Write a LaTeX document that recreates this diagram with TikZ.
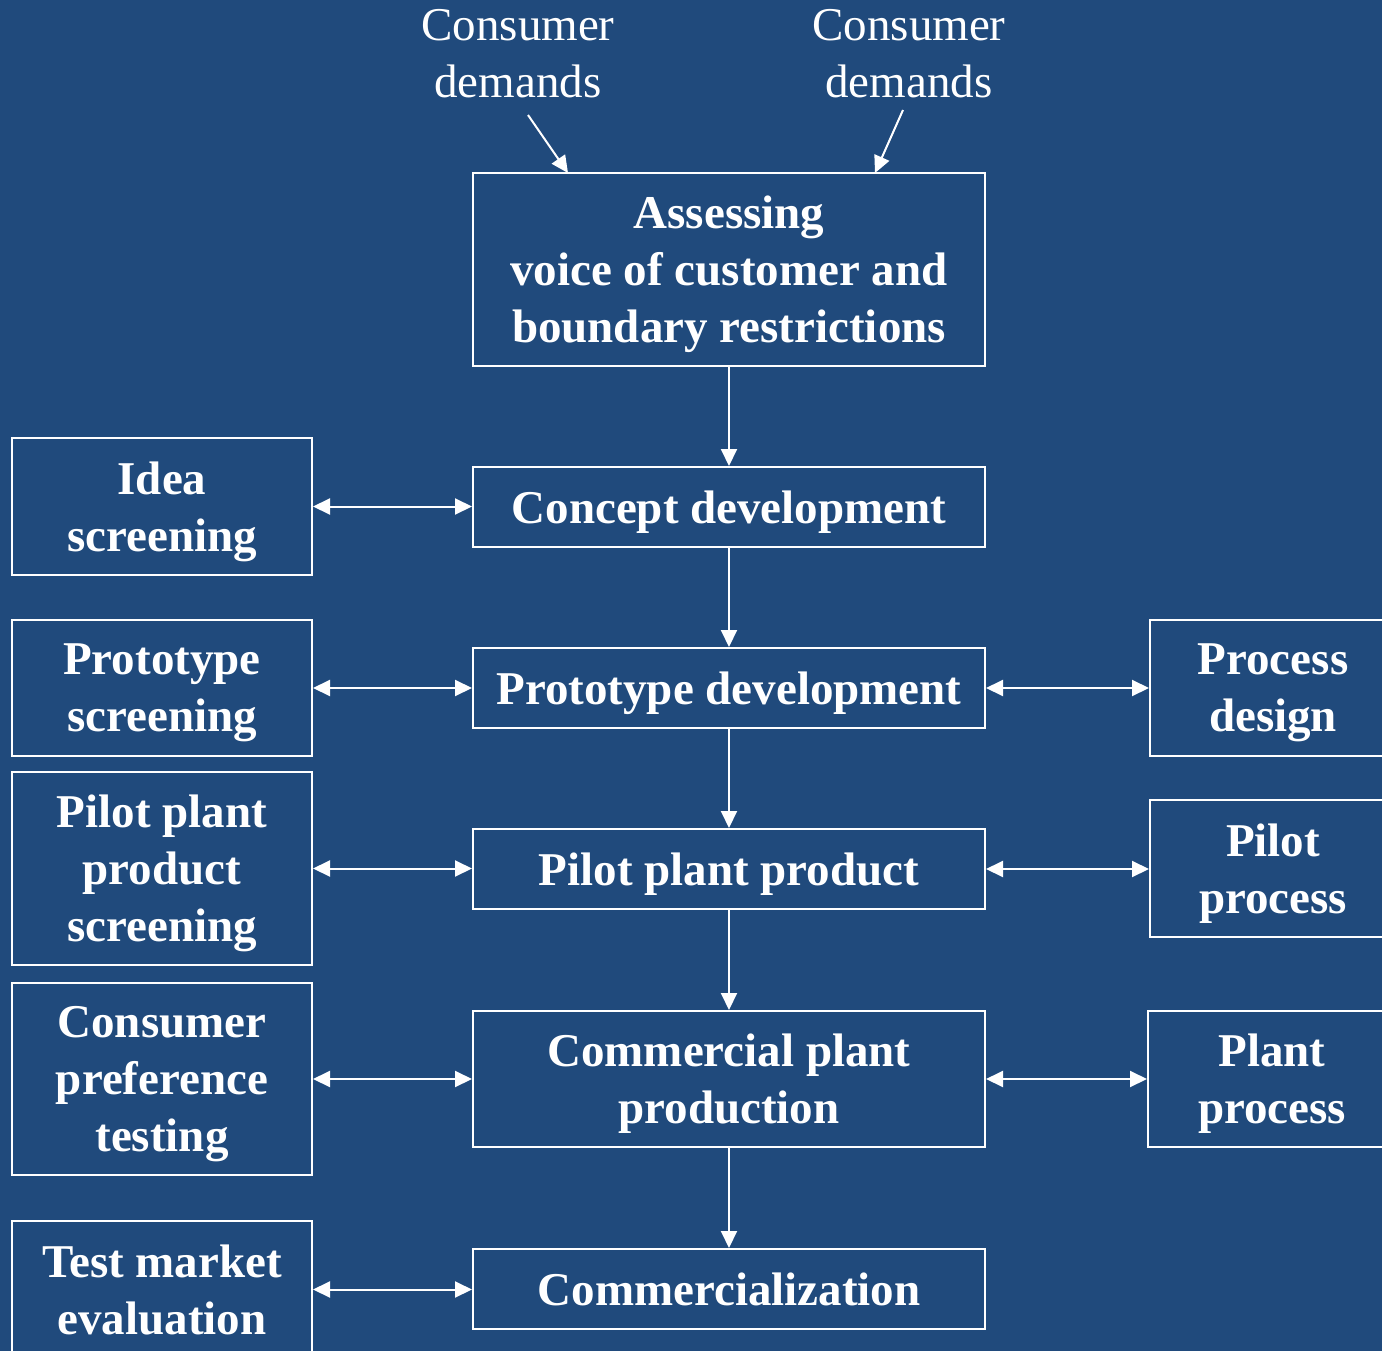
\documentclass[tikz,border=0pt]{standalone}
\usepackage{fontspec}
\setmainfont{Liberation Serif}
\usetikzlibrary{arrows.meta}
\definecolor{bgblue}{RGB}{32,74,124}
\begin{document}
\begin{tikzpicture}[x=1pt,y=-1pt,
  box/.style={draw=white,line width=2pt,inner sep=0pt},
  txt/.style={inner sep=0pt,align=center,text=white,
    font=\bfseries\fontsize{47}{57}\selectfont},
  plain/.style={inner sep=0pt,align=center,text=white,font=\fontsize{47}{57}\selectfont},
  link/.style={draw=white,line width=2pt,-{Triangle[length=17pt,width=16pt]}},
  dlink/.style={draw=white,line width=2pt,{Triangle[length=17pt,width=16pt]}-{Triangle[length=17pt,width=16pt]}}]
\fill[bgblue] (0,0) rectangle (1382,1351);
\useasboundingbox (0,0) rectangle (1382,1351);

% main chain frames
\node[box,minimum width=512pt,minimum height=193pt] (A) at (729,269.5) {};
\node[box,minimum width=512pt,minimum height=80pt] (B) at (729,507) {};
\node[box,minimum width=512pt,minimum height=80pt] (C) at (729,688) {};
\node[box,minimum width=512pt,minimum height=80pt] (D) at (729,869) {};
\node[box,minimum width=512pt,minimum height=136pt] (E) at (729,1079) {};
\node[box,minimum width=512pt,minimum height=80pt] (F) at (729,1289) {};

% screening column frames
\node[box,minimum width=300pt,minimum height=137pt] (L1) at (162,506.5) {};
\node[box,minimum width=300pt,minimum height=136pt] (L2) at (162,688) {};
\node[box,minimum width=300pt,minimum height=193pt] (L3) at (162,868.5) {};
\node[box,minimum width=300pt,minimum height=192pt] (L4) at (162,1079) {};
\node[box,minimum width=300pt,minimum height=137pt] (L5) at (162,1289.5) {};

% process column frames
\node[box,minimum width=246pt,minimum height=136pt] (R1) at (1273,688) {};
\node[box,minimum width=246pt,minimum height=137pt] (R2) at (1273,868.5) {};
\node[box,minimum width=248pt,minimum height=136pt] (R3) at (1272,1079) {};

% box texts
\node[txt] (At) at ([yshift=-5pt]A.center) {Assessing\\voice of customer and\\boundary restrictions};
\node[txt] (Bt) at ([yshift=-5pt]B.center) {Concept development};
\node[txt] (Ct) at ([yshift=-5pt]C.center) {Prototype development};
\node[txt] (Dt) at ([yshift=-5pt]D.center) {Pilot plant product};
\node[txt] (Et) at ([yshift=-5pt]E.center) {Commercial plant\\production};
\node[txt] (Ft) at ([yshift=0pt]F.center) {Commercialization};
\node[txt] (L1t) at ([yshift=-5pt]L1.center) {Idea\\screening};
\node[txt] (L2t) at ([yshift=-5pt]L2.center) {Prototype\\screening};
\node[txt] (L3t) at ([yshift=-5pt]L3.center) {Pilot plant\\product\\screening};
\node[txt] (L4t) at ([yshift=-5pt]L4.center) {Consumer\\preference\\testing};
\node[txt] (L5t) at ([yshift=0pt]L5.center) {Test market\\evaluation};
\node[txt] (R1t) at ([yshift=-5pt]R1.center) {Process\\design};
\node[txt] (R2t) at ([yshift=-5pt]R2.center) {Pilot\\process};
\node[txt] (R3t) at ([yshift=-5pt]R3.center) {Plant\\process};

% consumer inputs
\node[plain] (CD1) at (518,54) {Consumer\\demands};
\node[plain] (CD2) at (909,54) {Consumer\\demands};
\coordinate (c1s) at (528,115);
\coordinate (c1e) at (568,173);
\coordinate (c2s) at (903,110);
\coordinate (c2e) at (875,173);
\draw[link] (c1s) -- (c1e);
\draw[link] (c2s) -- (c2e);

% vertical flow
\draw[link] (A) -- (B);
\draw[link] (B) -- (C);
\draw[link] (C) -- (D);
\draw[link] (D) -- (E);
\draw[link] (E) -- (F);

% side exchanges
\draw[dlink] (L1.east) -- (L1.east -| B.west);
\draw[dlink] (L2.east) -- (C.west);
\draw[dlink] (L3.east) -- (L3.east -| D.west);
\draw[dlink] (L4.east) -- (E.west);
\draw[dlink] (L5.east) -- (L5.east -| F.west);
\draw[dlink] (C.east) -- (R1.west);
\draw[dlink] (D.east) -- (D.east -| R2.west);
\draw[dlink] (E.east) -- (R3.west);
\end{tikzpicture}
\end{document}
